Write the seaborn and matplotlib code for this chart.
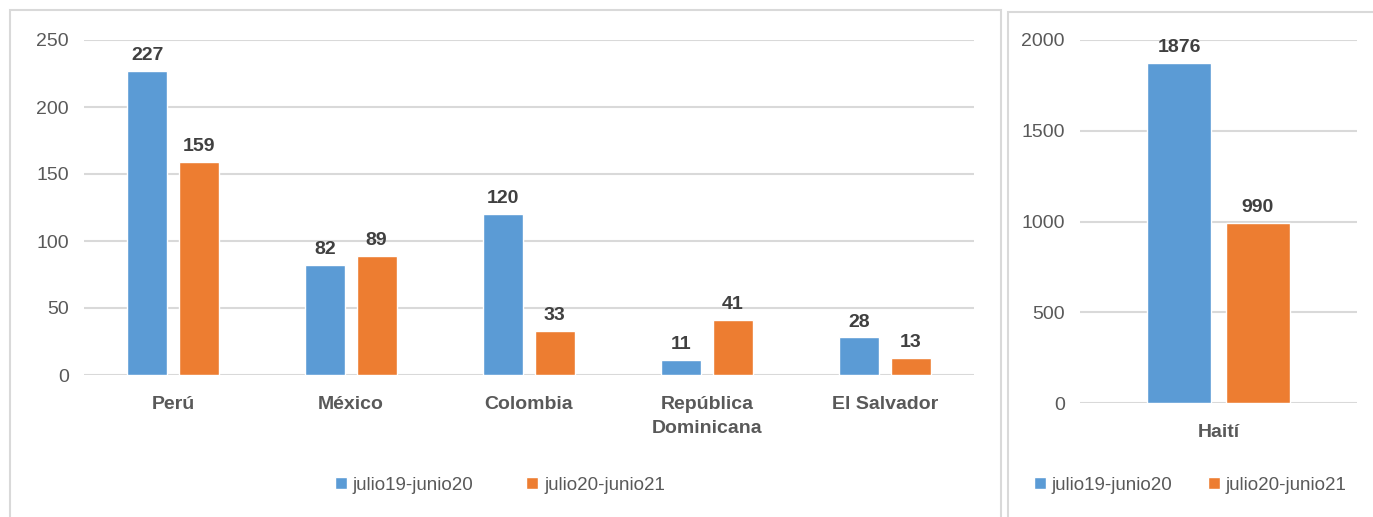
import numpy as np
import pandas as pd
import seaborn as sns
import matplotlib.pyplot as plt
from matplotlib.patches import Rectangle

sns.set_style("white")
plt.rcParams['font.family'] = ['Liberation Sans', 'DejaVu Sans']

# data
paises = ['Perú', 'México', 'Colombia', 'República\nDominicana', 'El Salvador']
periodos = ['julio19-junio20', 'julio20-junio21']
v_1920 = [227, 82, 120, 11, 28]
v_2021 = [159, 89, 33, 41, 13]
haiti_pais = ['Haití']
haiti_1920 = [1876]
haiti_2021 = [990]

colores = ['#5B9BD5', '#ED7D31']
gris = '#595959'
grid = '#D9D9D9'

df = pd.DataFrame({
    'pais': paises * 2,
    'periodo': [periodos[0]] * len(paises) + [periodos[1]] * len(paises),
    'valor': v_1920 + v_2021,
})
dh = pd.DataFrame({
    'pais': haiti_pais * 2,
    'periodo': periodos,
    'valor': haiti_1920 + haiti_2021,
})

fig = plt.figure(figsize=(13.73, 5.17), dpi=100)

# panel borders
fig.patches.append(Rectangle((10 / 1373, -0.01), 991 / 1373, 1 - 10 / 517 + 0.01,
                             transform=fig.transFigure, fill=False, ec=grid, lw=1.5))
fig.patches.append(Rectangle((1008 / 1373, -0.01), 0.3, 1 - 12 / 517 + 0.01,
                             transform=fig.transFigure, fill=False, ec=grid, lw=1.5))

ax1 = fig.add_axes([84 / 1373, 1 - 375 / 517, 890 / 1373, 335 / 517])
ax2 = fig.add_axes([1080 / 1373, 1 - 403 / 517, 277 / 1373, 363 / 517])


def style(ax, df, ylim, step, w, g, lg_anchor, colsp):
    sns.barplot(data=df, x='pais', y='valor', hue='periodo', palette=colores,
                width=w, gap=g, saturation=1, ax=ax, errorbar=None)
    ax.set_ylim(0, ylim)
    ax.set_yticks(np.arange(0, ylim + 1, step))
    ax.yaxis.grid(True, color=grid, lw=1.5)
    ax.set_axisbelow(True)
    for s in ax.spines.values():
        s.set_visible(False)
    ax.set_xlabel('')
    ax.set_ylabel('')
    ax.tick_params(axis='y', length=0, pad=11, labelsize=14, labelcolor=gris)
    ax.tick_params(axis='x', length=0, pad=15, labelsize=14, labelcolor=gris)
    for t in ax.get_xticklabels():
        t.set_fontweight('bold')
        t.set_linespacing(1.55)
    for c in ax.containers:
        ax.bar_label(c, padding=5, fontsize=14, fontweight='bold', color='#404040')
    h, l = ax.get_legend_handles_labels()
    ax.legend(h, l, loc='center', bbox_to_anchor=lg_anchor, ncol=2, frameon=False,
              fontsize=13.5, labelcolor=gris, handlelength=0.65, handleheight=0.65,
              handletextpad=0.3, columnspacing=colsp, bbox_transform=fig.transFigure)


style(ax1, df, 250, 50, 0.576, 0.22, (500 / 1373, 1 - 485 / 517), 2.8)
style(ax2, dh, 2000, 500, 0.57, 0.2, (1190 / 1373, 1 - 485 / 517), 1.9)
ax1.set_xlim(-0.5, len(paises) - 0.5)
ax2.set_xlim(-0.5, 0.5)

fig.savefig('out.png', dpi=100)
